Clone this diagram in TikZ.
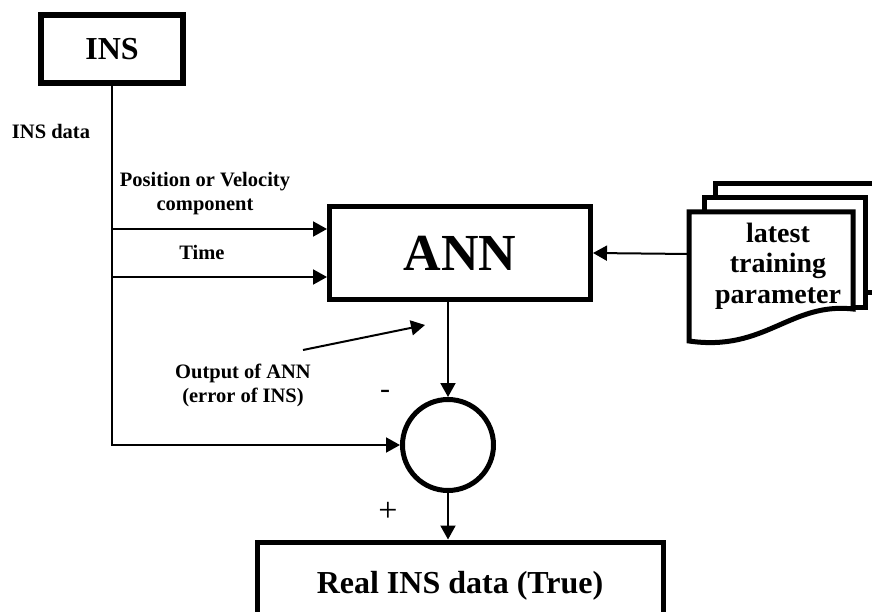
\documentclass[tikz,border=0pt]{standalone}
\usepackage{fontspec}
\setmainfont{Liberation Serif}
\usetikzlibrary{arrows.meta}
\begin{document}
\begin{tikzpicture}[x=1pt,y=-1pt,
  blk/.style={draw, line width=5pt, inner sep=0pt},
  conn/.style={line width=2pt, -{Triangle[length=14pt,width=15pt]}},
  lbl/.style={font=\fontsize{20.5}{24}\selectfont\bfseries, align=center, inner sep=0pt},
  sheet/.style={line width=5pt, line join=miter}
]
\useasboundingbox (0,0) rectangle (872,612);
\clip (0,0) rectangle (872,612);

% main blocks
\node[blk, line width=6pt, minimum width=142pt, minimum height=68pt,
      font=\fontsize{32}{32}\selectfont\bfseries] (ins) at (112,49) {INS};
\node[blk, minimum width=261pt, minimum height=93pt,
      font=\fontsize{52}{52}\selectfont\bfseries] (ann) at (460,253) {ANN};
\node[draw, circle, line width=5pt, minimum size=91pt, inner sep=0pt] (sum) at (448,445) {};
\node[blk, minimum width=406pt, minimum height=88pt,
      font=\fontsize{32}{32}\selectfont\bfseries] (real) at (460,586) {Real INS data (True)};

% stacked parameter sheets
\draw[sheet] (715,198) -- (715,184) -- (880,184) -- (880,292) -- (865,292);
\draw[sheet] (704,212) -- (704,198) -- (865,198) -- (865,307) -- (853,307);
\draw[sheet, fill=white] (689,212) -- (853,212) -- (853,309)
      .. controls (790,302) and (765,352) .. (689,341) -- cycle;
\node[font=\fontsize{28}{30.5}\selectfont\bfseries, align=center, inner sep=0pt]
      (param) at (778,266) {latest\\training\\parameter};
\coordinate (docin) at (689,254);

% connectors
\coordinate (tapA) at (112,229);
\coordinate (tapB) at (112,277);
\draw[conn] (ins.south) |- (sum.west);
\draw[conn] (tapA) -- (tapA -| ann.west);
\draw[conn] (tapB) -- (tapB -| ann.west);
\draw[conn] (docin) -- (ann.east);
\draw[conn] (sum.north |- ann.south) -- (sum.north);
\draw[conn] (sum.south) -- (sum.south |- real.north);
\coordinate (aS) at (303,350);
\coordinate (aE) at (425,325);
\draw[conn] (aS) -- (aE);

% labels
\node[lbl] (insdata) at (51,131) {INS data};
\node[lbl] (pos) at (205,194) {Position or Velocity\\component};
\node[lbl] (time) at (202,252) {Time};
\node[lbl] (out) at (243,385) {Output of ANN\\(error of INS)};
\node[font=\fontsize{30}{30}\selectfont, inner sep=0pt] (minus) at (385,394) {-};
\node[font=\fontsize{34}{34}\selectfont, inner sep=0pt] (plus) at (388,512) {+};
\end{tikzpicture}
\end{document}
